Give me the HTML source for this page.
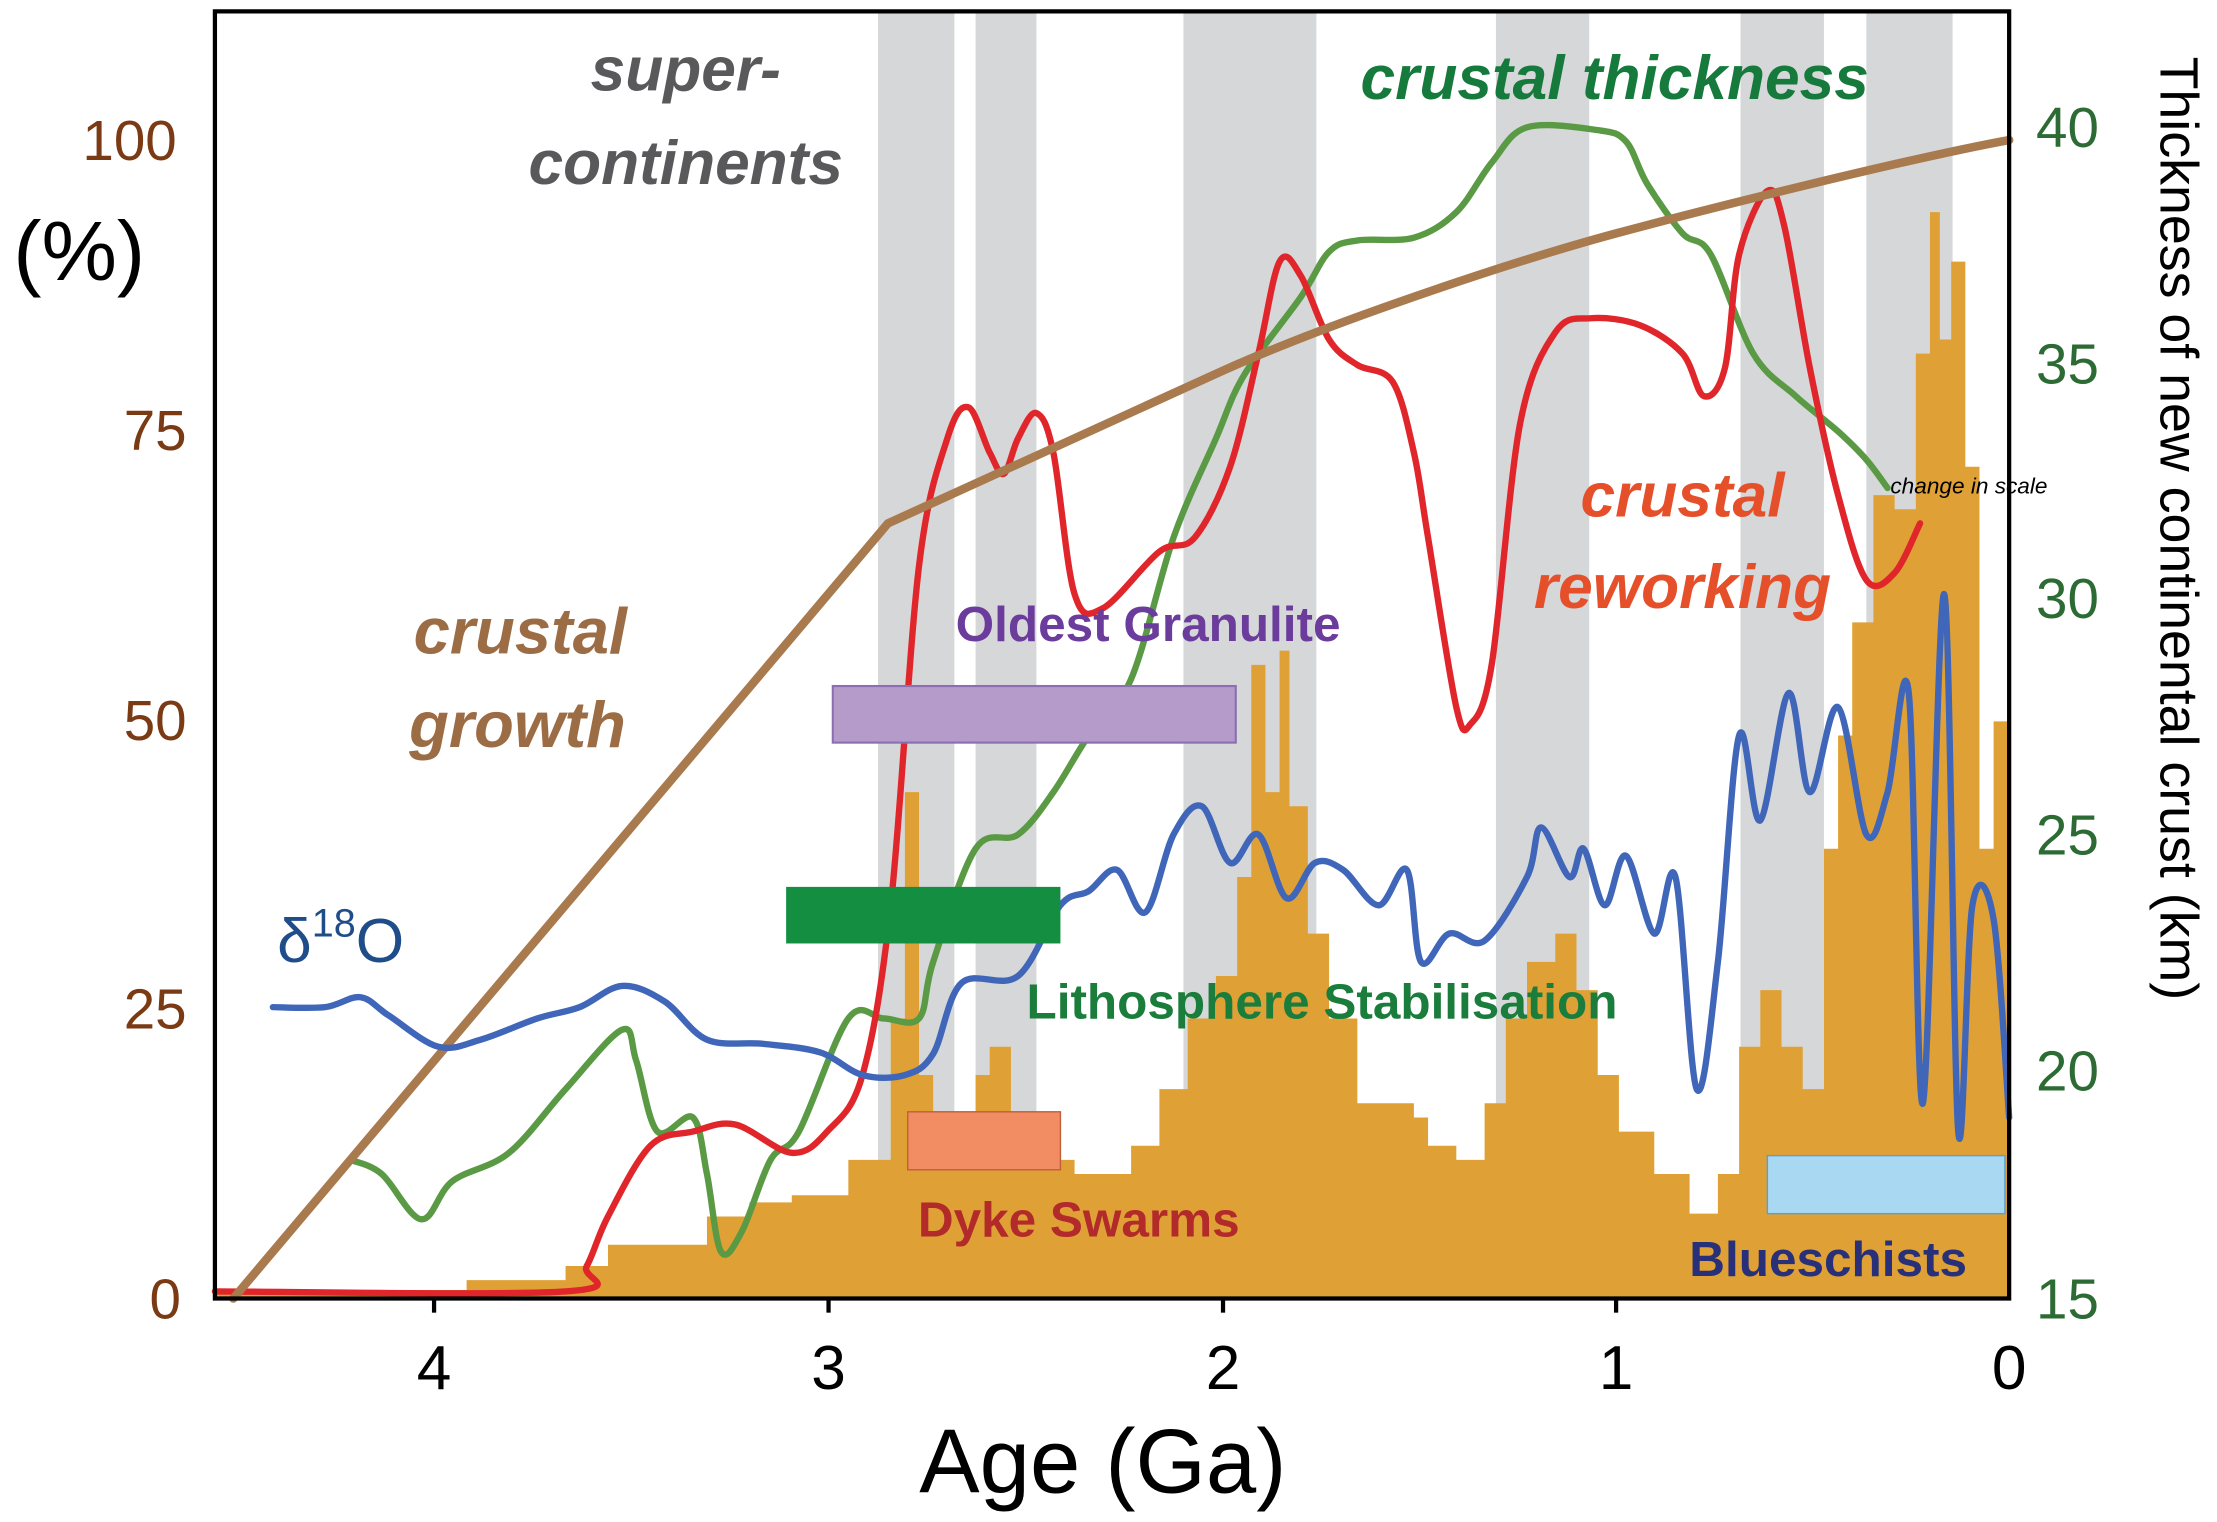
<!DOCTYPE html>
<html><head><meta charset="utf-8"><style>html,body{margin:0;padding:0;background:#fff}svg{display:block}</style></head>
<body>
<svg width="2217" height="1522" viewBox="0 0 1568 1076" preserveAspectRatio="none" xmlns="http://www.w3.org/2000/svg" font-family="Liberation Sans, sans-serif">
<rect width="1568" height="1076" fill="#fff"/>
<g fill="#d6d7d9">
<rect x="621" y="8" width="54" height="910"/><rect x="690" y="8" width="43" height="910"/>
<rect x="837" y="8" width="94" height="910"/><rect x="1058" y="8" width="66" height="910"/>
<rect x="1231" y="8" width="59" height="910"/><rect x="1320" y="8" width="61" height="910"/>
</g>
<path fill="#dfa136" d="M152 918 V912 H330 V905 H400 V895 H430 V880 H500 V860 H530 V850 H560 V845 H600 V820 H630 V720 H640 V560 H650 V760 H660 V790 H690 V760 H700 V740 H715 V790 H735 V820 H760 V830 H800 V810 H820 V770 H840 V720 H860 V690 H875 V620 H885 V470 H895 V560 H905 V460 H912 V570 H925 V660 H940 V720 H960 V780 H1000 V790 H1010 V810 H1030 V820 H1050 V780 H1065 V720 H1080 V680 H1100 V660 H1115 V700 H1130 V760 H1145 V800 H1170 V830 H1195 V858 H1215 V830 H1230 V740 H1245 V700 H1260 V740 H1275 V770 H1290 V600 H1300 V520 H1310 V440 H1325 V350 H1340 V360 H1355 V250 H1365 V150 H1372 V240 H1380 V185 H1390 V330 H1400 V600 H1410 V510 H1421 V918 Z"/>
<g fill="none" stroke-width="4.5" stroke-linejoin="round" stroke-linecap="round">
<path class="sm" stroke="#5a9a44" data-p="248,820 270,830 298,862 320,835 360,815 400,770 440,728 450,750 465,800 490,790 500,830 510,885 525,870 545,820 565,800 600,720 625,720 650,720 660,680 690,600 720,590 745,560 770,520 800,480 830,380 860,310 880,265 920,210 940,178 960,170 1000,168 1030,150 1055,115 1080,90 1130,92 1150,100 1165,130 1190,165 1210,180 1240,250 1270,280 1300,305 1320,325 1335,345"/>
<path class="sm" stroke="#e0262a" data-p="152,913 400,913 415,895 430,860 460,810 490,800 520,795 560,815 585,800 610,760 630,640 650,400 670,310 685,288 700,320 710,335 720,310 733,292 745,320 760,420 780,430 820,390 845,380 870,330 890,250 905,185 920,195 940,240 960,258 985,270 1000,320 1010,380 1030,500 1040,512 1055,470 1075,300 1100,235 1125,225 1160,230 1190,250 1205,280 1220,260 1230,180 1250,135 1262,160 1280,260 1300,350 1320,410 1340,405 1358,370"/>
<path stroke="#a97a4e" stroke-width="6" d="M165 918 L628 370 C700 338 780 300 865 262 S1080 182 1143 165 S1350 112 1421 99"/>
<path class="sm" stroke="#3f66b8" data-p="193,712 230,712 255,705 275,718 310,740 340,735 380,720 410,712 440,697 470,708 500,735 540,738 580,744 610,760 640,760 660,745 680,695 720,690 750,640 770,630 790,615 810,645 830,590 850,570 870,610 890,590 910,635 930,610 950,615 975,640 995,615 1005,680 1025,660 1050,665 1080,620 1090,585 1110,620 1120,600 1135,640 1150,605 1170,660 1185,620 1200,770 1215,680 1230,520 1245,580 1265,490 1280,560 1300,500 1320,590 1335,560 1350,490 1360,780 1375,420 1385,800 1395,640 1410,650 1421,790"/>
</g>
<rect x="589" y="485" width="285" height="40" fill="#b59bca" stroke="#8b6fb2" stroke-width="1.5"/>
<rect x="556" y="627" width="194" height="40" fill="#148f42"/>
<rect x="642" y="786" width="108" height="41" fill="#f28c62" stroke="#c0603a" stroke-width="1"/>
<rect x="1250" y="817" width="168" height="41" fill="#a9d9f2" stroke="#5aa0cc" stroke-width="1"/>
<path d="M152 8 H1421 V918 H152 Z" fill="none" stroke="#000" stroke-width="3"/>
<g stroke="#000" stroke-width="3"><line x1="307" y1="918" x2="307" y2="928"/><line x1="586" y1="918" x2="586" y2="928"/><line x1="865" y1="918" x2="865" y2="928"/><line x1="1143" y1="918" x2="1143" y2="928"/></g>
<g font-size="44" text-anchor="middle" fill="#000"><text x="307" y="982">4</text><text x="586" y="982">3</text><text x="865" y="982">2</text><text x="1143" y="982">1</text><text x="1421" y="982">0</text></g>
<text x="780" y="1055" font-size="64" text-anchor="middle">Age (Ga)</text>
<g font-size="40" fill="#7a3a14" text-anchor="end"><text x="125" y="113">100</text><text x="132" y="318">75</text><text x="132" y="523">50</text><text x="132" y="727">25</text><text x="128" y="932">0</text></g>
<text x="56" y="198" font-size="60" text-anchor="middle">(%)</text>
<g font-size="40" fill="#2d6b34"><text x="1440" y="104">40</text><text x="1440" y="271">35</text><text x="1440" y="437">30</text><text x="1440" y="604">25</text><text x="1440" y="771">20</text><text x="1440" y="932">15</text></g>
<text transform="translate(1528,40) rotate(90)" font-size="38" fill="#000">Thickness of new continental crust (km)</text>
<g font-weight="bold" font-style="italic">
<text x="485" y="64" font-size="44" fill="#59595b" text-anchor="middle">super-</text>
<text x="485" y="130" font-size="44" fill="#59595b" text-anchor="middle">continents</text>
<text x="1142" y="70" font-size="44" fill="#157a3c" text-anchor="middle">crustal thickness</text>
<text x="1190" y="365" font-size="44" fill="#e5502a" text-anchor="middle">crustal</text>
<text x="1190" y="430" font-size="44" fill="#e5502a" text-anchor="middle">reworking</text>
<text x="368" y="462" font-size="46" fill="#9c6c44" text-anchor="middle">crustal</text>
<text x="366" y="528" font-size="46" fill="#9c6c44" text-anchor="middle">growth</text>
</g>
<text x="1337" y="349" font-size="16" font-style="italic" fill="#000">change in scale</text>
<text x="196" y="680" font-size="44" fill="#1f4d8a">δ<tspan font-size="28" dy="-18">18</tspan><tspan dy="18">O</tspan></text>
<g font-weight="bold" font-size="35">
<text x="812" y="453" fill="#6b3c9c" text-anchor="middle">Oldest Granulite</text>
<text x="935" y="720" fill="#1b7d3c" text-anchor="middle">Lithosphere Stabilisation</text>
<text x="763" y="874" fill="#b22a2a" text-anchor="middle">Dyke Swarms</text>
<text x="1293" y="902" fill="#28307a" text-anchor="middle">Blueschists</text>
</g>
</svg>
<script>
document.querySelectorAll('path.sm').forEach(function(el){
 var p=el.getAttribute('data-p').trim().split(/\s+/).map(function(s){return s.split(',').map(Number);});
 var d='M'+p[0][0]+' '+p[0][1];
 for(var i=0;i<p.length-1;i++){
  var p0=p[i-1]||p[i],p1=p[i],p2=p[i+1],p3=p[i+2]||p2;
  var c1=[p1[0]+(p2[0]-p0[0])/6,p1[1]+(p2[1]-p0[1])/6];
  var c2=[p2[0]-(p3[0]-p1[0])/6,p2[1]-(p3[1]-p1[1])/6];
  d+=' C'+c1[0].toFixed(1)+' '+c1[1].toFixed(1)+' '+c2[0].toFixed(1)+' '+c2[1].toFixed(1)+' '+p2[0]+' '+p2[1];
 }
 el.setAttribute('d',d);
});
</script>
</body></html>
